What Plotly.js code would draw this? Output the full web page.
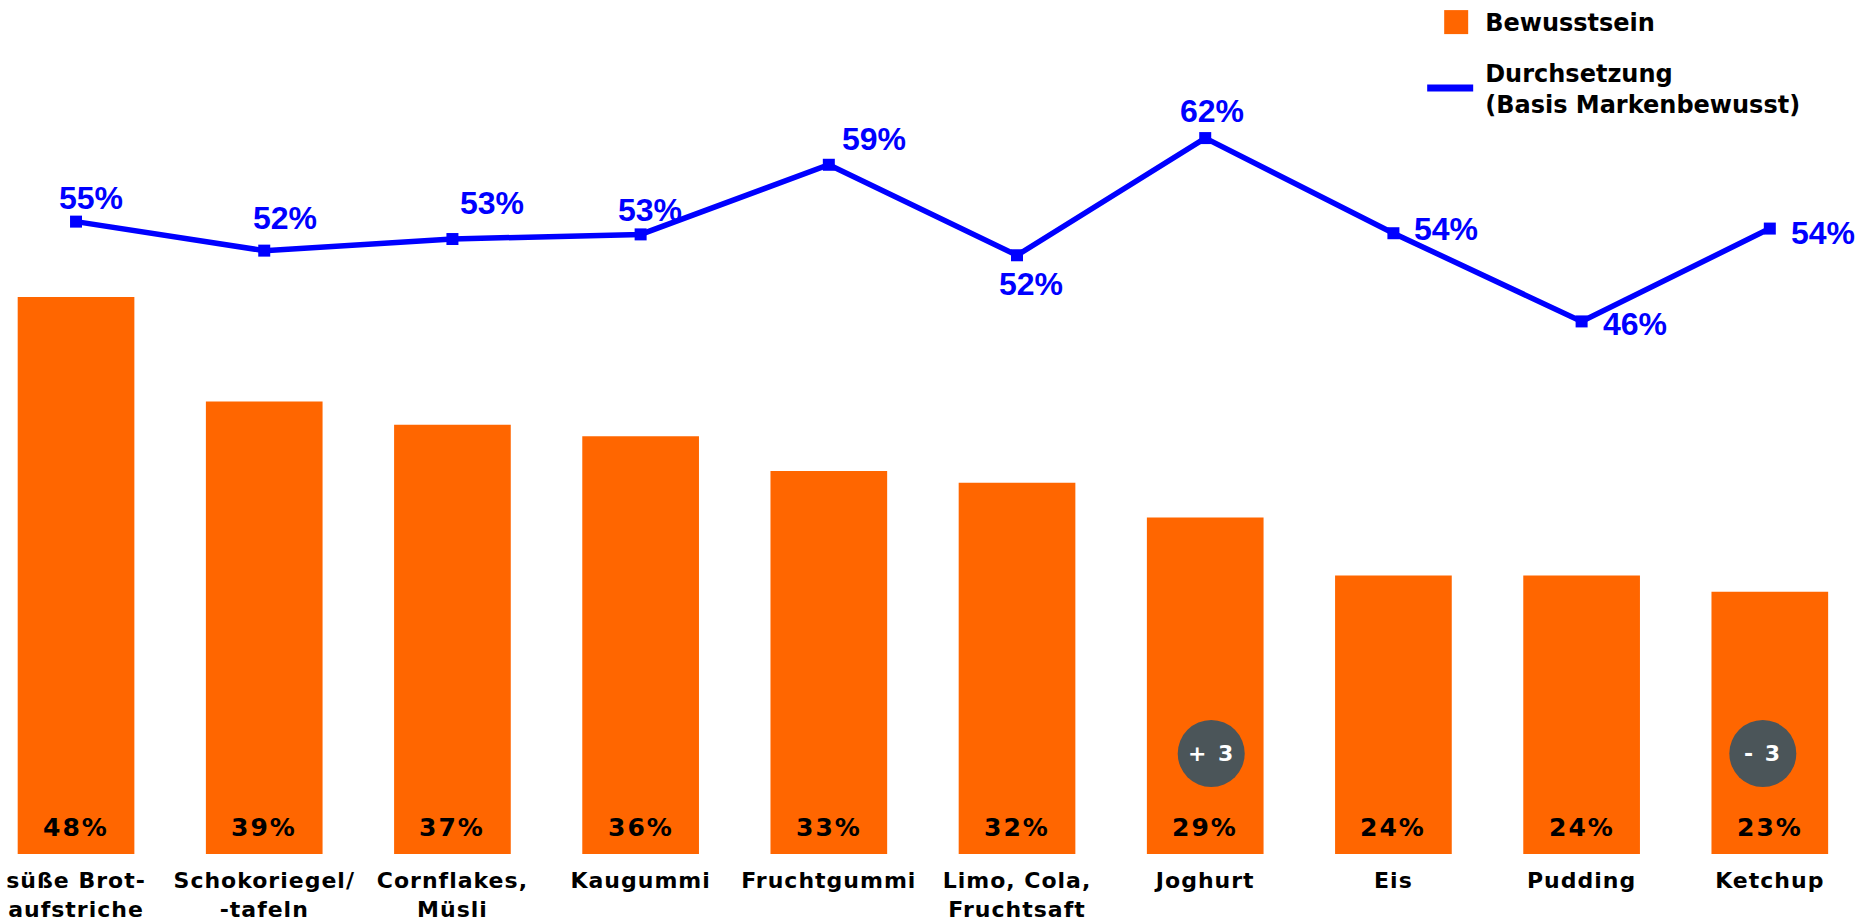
<!DOCTYPE html>
<html>
<head>
<meta charset="utf-8">
<script src="https://cdn.plot.ly/plotly-3.0.1.min.js"></script>
<style>
  html, body { margin: 0; padding: 0; background: #fff; }
  #chart { width: 1872px; height: 924px; }
  .xtick text { letter-spacing: 1px; }
</style>
</head>
<body>
<div id="chart"></div>
<script>
// --- Data ---
var categories = ['süße Brot-<br>aufstriche', 'Schokoriegel/<br>-tafeln', 'Cornflakes,<br>Müsli', 'Kaugummi',
    'Fruchtgummi', 'Limo, Cola,<br>Fruchtsaft', 'Joghurt', 'Eis', 'Pudding', 'Ketchup'];
var bewusstsein = [48, 39, 37, 36, 33, 32, 29, 24, 24, 22.6];
var durchsetzung = [54.5, 52.0, 53.0, 53.4, 59.4, 51.6, 61.7, 53.5, 45.9, 53.9];
var badgeCats = ['Joghurt', 'Ketchup'];
var badgeText = ['+ 3', '- 3'];

// --- Styling ---
var ORANGE = '#ff6600';
var BLUE = '#0000ff';
var BADGE = '#4b5559';
var ARIAL = '"Liberation Sans", Arial, sans-serif';
var VERD = '"DejaVu Sans", Verdana, sans-serif';

// label offsets (px) for line labels, relative to each point
var lineLabelShift = [
    [15, 24], [21, 33], [40, 36], [9, 24], [45, 26],
    [14, -29], [7, 27], [53, 4], [53, -3], [53, -4]
];
// badge circle offset relative to bar centre
var badgeShift = { 'Joghurt': 6, 'Ketchup': -7 };

var barTrace = {
    type: 'bar',
    name: 'Bewusstsein',
    x: categories,
    y: bewusstsein,
    marker: { color: ORANGE },
    hoverinfo: 'skip',
    legendgroup: 'a'
};

var lineTrace = {
    type: 'scatter',
    mode: 'lines',
    name: 'Durchsetzung<br>(Basis Markenbewusst)',
    x: categories,
    y: durchsetzung,
    line: { color: BLUE, width: 5.5 },
    hoverinfo: 'skip',
    legendgroup: 'b'
};

var markerTrace = {
    type: 'scatter',
    mode: 'markers',
    x: categories,
    y: durchsetzung,
    marker: { color: BLUE, symbol: 'square', size: 12 },
    showlegend: false,
    hoverinfo: 'skip'
};

var annotations = [];

// percentage labels at the foot of each bar
bewusstsein.forEach(function (v, i) {
    annotations.push({
        x: categories[i], y: 0, xref: 'x', yref: 'y',
        text: Math.round(v) + '%', showarrow: false,
        yanchor: 'middle', yshift: 27,
        font: { family: VERD, size: 25, color: '#000', weight: 'bold' }
    });
});

// labels for the line
durchsetzung.forEach(function (v, i) {
    annotations.push({
        x: categories[i], y: v, xref: 'x', yref: 'y',
        text: Math.round(v) + '%', showarrow: false,
        xanchor: 'center', yanchor: 'middle',
        xshift: lineLabelShift[i][0], yshift: lineLabelShift[i][1],
        font: { family: ARIAL, size: 32, color: BLUE, weight: 'bold' }
    });
});

// change badges
var shapes = [];
badgeCats.forEach(function (c, i) {
    var dx = badgeShift[c];
    var idx = categories.indexOf(c);
    shapes.push({
        type: 'circle', xref: 'x', yref: 'y',
        xsizemode: 'pixel', ysizemode: 'pixel',
        xanchor: idx, yanchor: 0,
        x0: dx - 33.5, x1: dx + 33.5, y0: 67, y1: 134,
        fillcolor: BADGE, line: { width: 0 }, layer: 'above'
    });
    annotations.push({
        x: c, y: 0, xref: 'x', yref: 'y',
        text: badgeText[i], showarrow: false,
        yanchor: 'middle', xshift: dx, yshift: 101,
        font: { family: VERD, size: 22, color: '#fff', weight: 'bold' }
    });
});

var layout = {
    width: 1872,
    height: 924,
    margin: { l: 0, r: 0, t: 0, b: 70 },
    paper_bgcolor: '#fff',
    plot_bgcolor: '#fff',
    bargap: 0.38,
    showlegend: true,
    legend: {
        x: 0.772, xanchor: 'left', y: 1.0, yanchor: 'top',
        font: { family: VERD, size: 24, color: '#000', weight: 'bold' },
        tracegroupgap: 16,
        bgcolor: 'rgba(0,0,0,0)'
    },
    xaxis: {
        type: 'category',
        range: [-0.404, 9.543],
        showgrid: false, zeroline: false, showline: false,
        ticks: '', ticklabelstandoff: 11,
        tickfont: { family: VERD, size: 22, color: '#000', weight: 'bold' },
        fixedrange: true
    },
    yaxis: {
        range: [0, 73.6],
        visible: false,
        fixedrange: true
    },
    annotations: annotations,
    shapes: shapes
};

Plotly.newPlot('chart', [barTrace, lineTrace, markerTrace], layout, { displayModeBar: false, staticPlot: true })
    .then(function (gd) {
        // wider letter spacing for the black/white labels, like the original slide
        gd.querySelectorAll('.annotation-text').forEach(function (t) {
            if ((t.style.fontFamily || '').indexOf('DejaVu') >= 0) t.style.letterSpacing = '2px';
        });
        // bigger legend symbols (and let them reach past the legend box)
        gd.querySelectorAll('.legend .scrollbox').forEach(function (s) {
            s.removeAttribute('clip-path');
        });
        var items = gd.querySelectorAll('.legend .traces');
        if (items[0]) {
            items[0].querySelectorAll('.legendpoints path').forEach(function (p) {
                p.setAttribute('d', 'M3,12H-21V-12H3Z');
            });
        }
        if (items[1]) {
            items[1].querySelectorAll('.legendlines path').forEach(function (p) {
                p.setAttribute('d', 'M-18,0h46');
                p.style.strokeWidth = '7px';
            });
        }
    });
</script>
</body>
</html>
